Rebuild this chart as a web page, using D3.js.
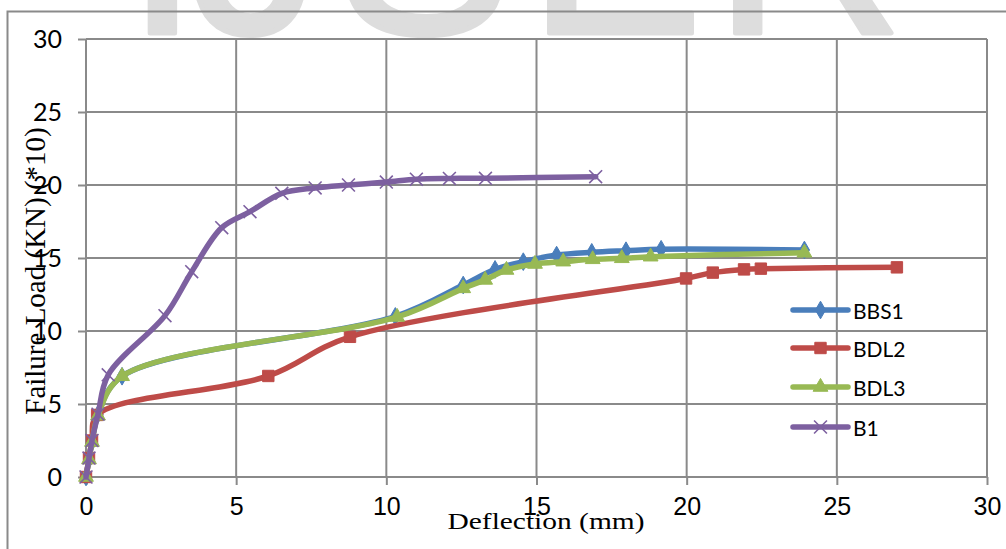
<!DOCTYPE html>
<html>
<head>
<meta charset="utf-8">
<script src="https://cdn.jsdelivr.net/npm/d3@7"></script>
<style>
  html, body { margin: 0; padding: 0; background: #fff; }
  svg { display: block; }
</style>
</head>
<body>
<svg id="chart" width="1006" height="549"></svg>
<script>
// Load–deflection readings for each beam
const bbs1X = [0, 0.1, 0.2, 0.4, 1.2, 10.3, 12.56, 13.62, 14.56, 15.67, 16.84, 17.98, 19.15, 23.92];
const bbs1Y = [0, 1.2, 2.4, 4.3, 6.9, 11.0, 13.15, 14.22, 14.75, 15.2, 15.39, 15.5, 15.6, 15.55];

const bdl2X = [0, 0.1, 0.2, 0.37, 6.07, 8.79, 19.98, 20.87, 21.91, 22.47, 27.0];
const bdl2Y = [0, 1.3, 2.5, 4.25, 6.92, 9.6, 13.6, 14.0, 14.22, 14.27, 14.36];

const bdl3X = [0, 0.1, 0.2, 0.4, 1.2, 10.36, 12.56, 13.29, 14.0, 14.95, 15.89, 16.87, 17.84, 18.8, 23.92];
const bdl3Y = [0, 1.2, 2.4, 4.2, 6.9, 10.96, 12.92, 13.5, 14.18, 14.59, 14.75, 14.91, 14.98, 15.09, 15.36];

const b1X = [0, 0.1, 0.2, 0.4, 0.74, 2.63, 3.52, 4.52, 5.46, 6.52, 7.63, 8.74, 10.0, 11.0, 12.1, 13.3, 16.97];
const b1Y = [0, 1.3, 2.5, 4.3, 7.0, 11.05, 14.06, 17.08, 18.17, 19.43, 19.8, 20.0, 20.2, 20.4, 20.45, 20.46, 20.57];

const seriesNames = ["BBS1", "BDL2", "BDL3", "B1"];
const xTicks = [0, 5, 10, 15, 20, 25, 30];
const yTicks = [0, 5, 10, 15, 20, 25, 30];
const xTitle = "Deflection (mm)";
const yTitle = "Failure Load (KN) (*10)";

const series = [
  { name: seriesNames[0], xs: bbs1X, ys: bbs1Y, color: "#4a7ebb", marker: "diamond" },
  { name: seriesNames[1], xs: bdl2X, ys: bdl2Y, color: "#be4b48", marker: "square" },
  { name: seriesNames[2], xs: bdl3X, ys: bdl3Y, color: "#98b954", marker: "triangle" },
  { name: seriesNames[3], xs: b1X,   ys: b1Y,   color: "#7d60a0", marker: "times" }
];

const svg = d3.select("#chart");
const plotLeft = 86, plotRight = 987, plotTop = 39, plotBottom = 477;

const x = d3.scaleLinear().domain([0, 30]).range([plotLeft, plotRight]);
const y = d3.scaleLinear().domain([0, 30]).range([plotBottom, plotTop]);

// Publisher mark across the top edge
const mark = svg.append("g").attr("fill", "#dddddd")
  .attr("stroke", "#dddddd").attr("stroke-width", 5).attr("stroke-linejoin", "round")
  .attr("font-family", "Liberation Sans, Arial, sans-serif")
  .attr("font-size", 262);
[["I", 126], ["J", 192], ["S", 337], ["E", 528], ["R", 714]].forEach(([ch, px]) => {
  mark.append("text").attr("x", px).attr("y", 33).text(ch);
});

// Outer frame
svg.append("rect")
  .attr("x", 7.5).attr("y", 11.5)
  .attr("width", 1010).attr("height", 560)
  .attr("fill", "none").attr("stroke", "#8a8a8a").attr("stroke-width", 2);

// Gridlines
const grid = svg.append("g").attr("stroke", "#8a8a8a").attr("stroke-width", 2);
grid.selectAll("line.v").data(xTicks).join("line")
  .attr("x1", d => x(d)).attr("x2", d => x(d))
  .attr("y1", plotTop).attr("y2", plotBottom);
grid.selectAll("line.h").data(yTicks).join("line")
  .attr("x1", plotLeft).attr("x2", plotRight)
  .attr("y1", d => y(d)).attr("y2", d => y(d));

// Axes with outward ticks
const xAxis = svg.append("g")
  .attr("transform", `translate(0,${plotBottom})`)
  .call(d3.axisBottom(x).tickValues(xTicks).tickSize(8).tickPadding(12).tickFormat(d3.format("d")));
xAxis.select(".domain").remove();
xAxis.selectAll(".tick line").attr("stroke", "#8a8a8a").attr("stroke-width", 2);
xAxis.selectAll(".tick text")
  .attr("font-family", "Liberation Sans, Arial, sans-serif")
  .attr("font-size", 25).attr("fill", "#000");

const yAxis = svg.append("g")
  .attr("transform", `translate(${plotLeft},0)`)
  .call(d3.axisLeft(y).tickValues(yTicks).tickSize(8).tickPadding(16).tickFormat(d3.format("d")));
yAxis.select(".domain").remove();
yAxis.selectAll(".tick line").attr("stroke", "#8a8a8a").attr("stroke-width", 2);
yAxis.selectAll(".tick text")
  .attr("font-family", "Lato, Carlito, Calibri, sans-serif")
  .attr("font-size", 25).attr("fill", "#000");

// Smoothed curves through the readings
const line = d3.line()
  .x(d => x(d[0])).y(d => y(d[1]))
  .curve(d3.curveCatmullRom.alpha(0.5));

const symbolFor = {
  diamond: d3.symbol().type(d3.symbolDiamond).size(90),
  square: d3.symbol().type(d3.symbolSquare).size(130),
  triangle: d3.symbol().type(d3.symbolTriangle).size(95),
  times: d3.symbol().type(d3.symbolTimes).size(110)
};

function drawMarker(g, s, px, py) {
  const p = g.append("path")
    .attr("d", symbolFor[s.marker]())
    .attr("transform", `translate(${px},${py})`);
  if (s.marker === "times") {
    p.attr("fill", "none").attr("stroke", s.color).attr("stroke-width", 1.6);
  } else {
    p.attr("fill", s.color).attr("stroke", s.color).attr("stroke-width", 1);
  }
}

series.forEach(s => {
  const pts = s.xs.map((v, i) => [v, s.ys[i]]);
  const g = svg.append("g");
  g.append("path")
    .datum(pts)
    .attr("d", line)
    .attr("fill", "none")
    .attr("stroke", s.color)
    .attr("stroke-width", 5.5)
    .attr("stroke-linejoin", "round")
    .attr("stroke-linecap", "round");
  pts.forEach(p => drawMarker(g, s, x(p[0]), y(p[1])));
});

// Legend
const legendRows = [310, 348, 387, 427];
const legend = svg.append("g");
series.forEach((s, i) => {
  const ly = legendRows[i];
  const g = legend.append("g");
  g.append("line")
    .attr("x1", 793).attr("x2", 848).attr("y1", ly).attr("y2", ly)
    .attr("stroke", s.color).attr("stroke-width", 5.5).attr("stroke-linecap", "round");
  drawMarker(g, s, 820.5, ly);
  g.append("text")
    .attr("x", 853).attr("y", ly)
    .attr("dominant-baseline", "central")
    .attr("font-family", "Lato, Carlito, Calibri, sans-serif")
    .attr("font-size", 21).attr("fill", "#000")
    .text(s.name);
});

// Axis titles
svg.append("text")
  .attr("x", 546).attr("y", 529)
  .attr("text-anchor", "middle")
  .attr("font-family", "Liberation Serif, Times New Roman, serif")
  .attr("font-size", 24)
  .attr("textLength", 197).attr("lengthAdjust", "spacingAndGlyphs")
  .attr("fill", "#000")
  .text(xTitle);

svg.append("text")
  .attr("transform", "translate(45,271) rotate(-90)")
  .attr("text-anchor", "middle")
  .attr("font-family", "Liberation Serif, Times New Roman, serif")
  .attr("font-size", 29)
  .attr("fill", "#000")
  .text(yTitle);
</script>
</body>
</html>
